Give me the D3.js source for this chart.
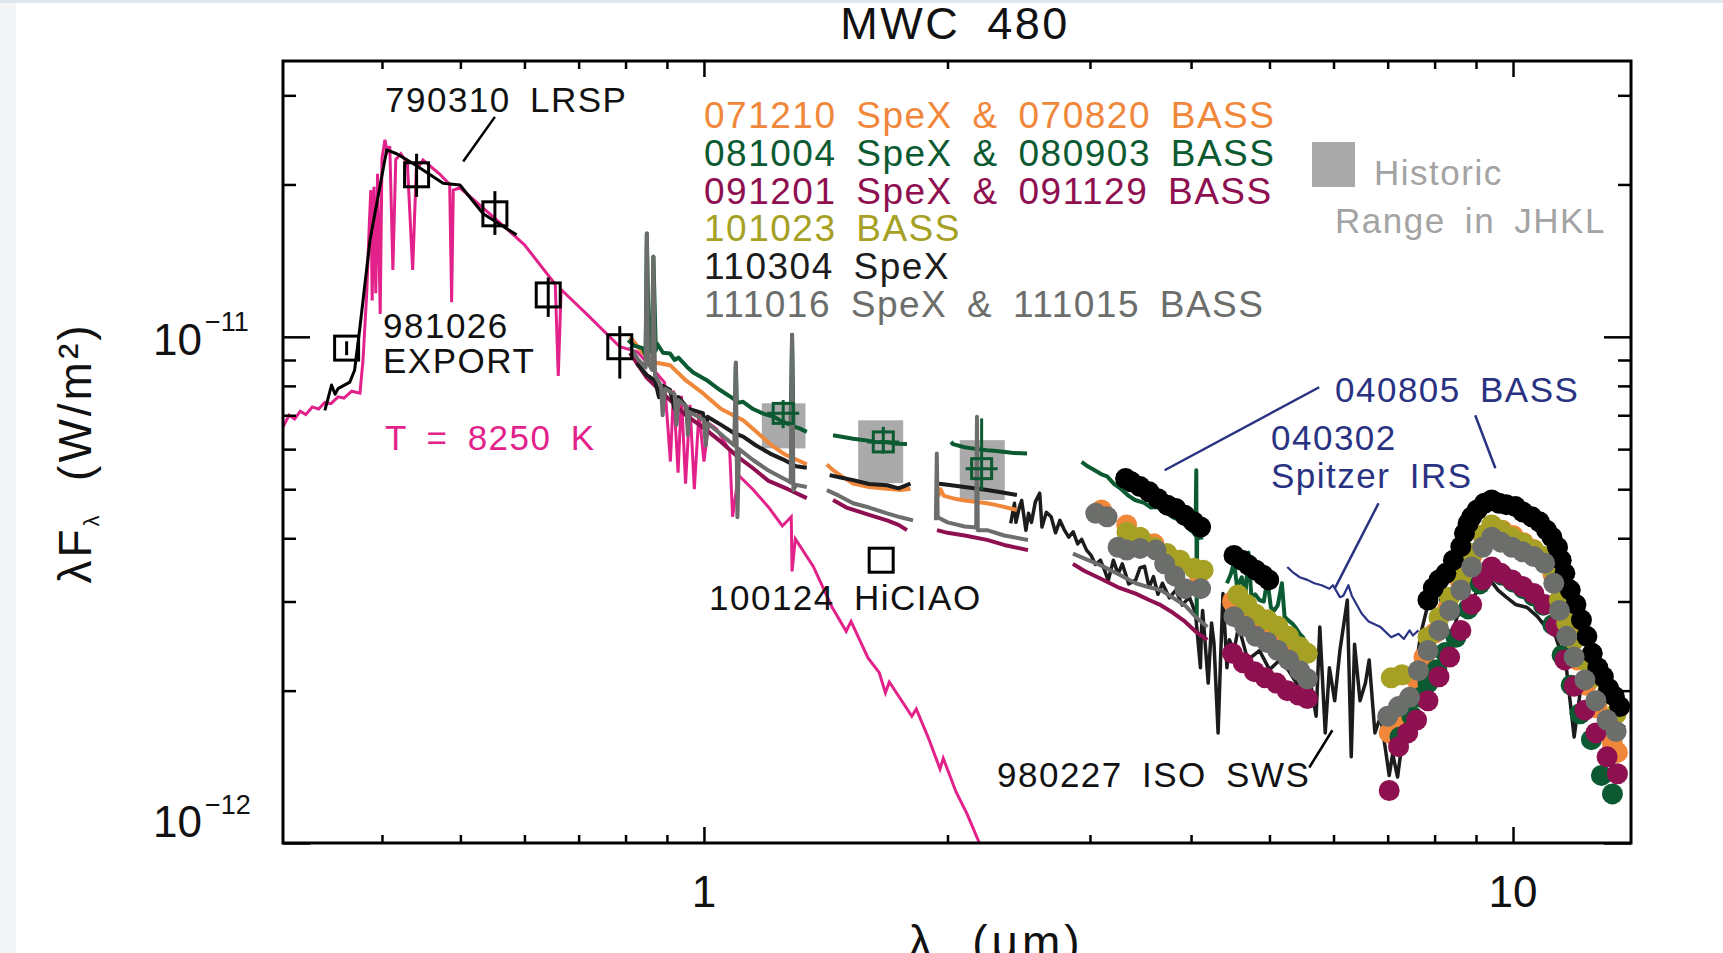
<!DOCTYPE html>
<html>
<head>
<meta charset="utf-8">
<script src="https://cdn.jsdelivr.net/npm/d3@7"></script>
<style>
  html, body { margin: 0; padding: 0; background: #fff; }
  body { width: 1723px; height: 953px; overflow: hidden; }
  svg text { font-family: "Liberation Sans", Arial, sans-serif; }
</style>
</head>
<body>
<svg id="chart" width="1723" height="953"></svg>
<script>
// wavelengths in microns, fluxes (lambda F_lambda) in units of 1e-12 W/m^2

// Kurucz model, T = 8250 K
const pinkModel = [
  [0.302,6.65],[0.307,7.0],[0.312,6.88],[0.317,7.13],[0.322,7.02],[0.328,7.27],[0.334,7.2],[0.340,7.42],
  [0.346,7.38],[0.353,7.61],[0.359,7.57],[0.367,7.81],[0.3757,7.74],[0.379,9.0],[0.383,12.2],[0.386,17.0],
  [0.3875,19.5],[0.389,11.8],[0.391,19.8],[0.393,12.2],[0.395,21.0],[0.398,11.1],[0.400,22.5],[0.4034,24.5],
  [0.406,23.2],[0.409,23.8],[0.4126,13.55],[0.416,22.4],[0.422,23.0],[0.430,22.0],[0.4365,13.55],[0.441,21.4],
  [0.4495,22.35],[0.471,21.0],[0.485,20.0],[0.4877,11.7],[0.490,19.5],[0.4994,19.7],[0.5437,17.5],[0.60,15.2],
  [0.655,12.7],[0.6606,8.37],[0.666,12.4],[0.72,11.0],[0.787,9.56],[0.827,9.34],[0.868,8.58],[0.894,8.12],
  [0.909,5.67],[0.917,7.83],[0.929,5.39],[0.938,7.65],[0.949,5.13],[0.961,7.34],[0.973,5.0],[0.986,7.09],
  [1.0,5.67],[1.014,6.75],[1.036,6.58],[1.056,6.27],[1.076,5.96],[1.085,4.41],[1.103,5.33],[1.149,5.0],
  [1.204,4.59],[1.25,4.23],[1.282,4.41],[1.285,3.44],[1.297,3.99],[1.365,3.52],[1.439,2.93],[1.499,2.62],
  [1.52,2.74],[1.595,2.32],[1.647,2.17],[1.676,1.98],[1.695,2.08],[1.807,1.78],[1.83,1.84],[1.895,1.61],
  [1.958,1.40],[1.976,1.47],[2.05,1.26],[2.115,1.14],[2.19,1.0],[2.22,0.96]
];

// 790310 LRSP
const lrsp = [
  [0.340,7.16],[0.3465,8.03],[0.350,7.70],[0.353,7.90],[0.365,8.14],[0.370,8.59],[0.3757,10.46],
  [0.3866,15.53],[0.4054,23.4],[0.417,23.0],[0.437,22.0],[0.476,20.1],[0.4994,19.95],[0.5335,17.5],[0.5867,15.9]
];

// 981026 EXPORT photometry: [lambda, flux, low, high]
const exportPhot = [
  [0.3617,9.5,9.2,9.8],[0.4414,20.9,18.9,23.0],[0.5516,17.5,15.9,19.4],[0.642,12.1,10.95,13.1],[0.787,9.56,8.27,10.5]
];
// 100124 HiCIAO
const hiciaoPhot = [[1.656,3.62]];

// historic range in JHK: [lambdaLow, lambdaHigh, fluxLow, fluxHigh]
const historicBoxes = [[1.179,1.335,6.02,7.39],[1.551,1.763,5.14,6.84],[2.071,2.354,4.76,6.25]];
// 081004 photometry: [lambda, flux, low, high]
const greenPhot = [[1.253,7.06,6.6,7.5],[1.666,6.20,5.88,6.64],[2.204,5.49,4.98,6.9]];

// SpeX spectra, each split into segments
const spex071210 = [
  [[0.81,10.0],[0.84,9.3],[0.87,8.9],[0.908,8.79],[0.95,8.2],[0.997,7.74],[1.05,7.2],[1.118,6.84],[1.16,6.5],[1.207,6.14],[1.26,5.85],[1.34,5.6]],
  [[1.419,5.6],[1.44,5.47],[1.48,5.3],[1.529,5.13],[1.6,5.05],[1.684,5.01],[1.75,4.98],[1.80,5.01]],
  [[1.948,4.83],[1.96,5.0],[1.98,4.85],[2.05,4.78],[2.1,4.75],[2.238,4.69],[2.3,4.65],[2.437,4.55]]
];
const spex081004 = [
  [[0.806,9.85],[0.82,9.6],[0.84,9.5],[0.847,9.2],[0.850,16.0],[0.855,9.5],[0.862,9.3],[0.866,14.4],[0.872,9.4],
   [0.875,9.7],[0.89,9.3],[0.908,9.27],[0.92,9.0],[0.93,9.1],[0.953,8.72],[0.97,8.5],[1.008,8.21],[1.03,8.0],
   [1.047,7.85],[1.08,7.6],[1.093,7.5],[1.095,8.87],[1.098,7.4],[1.118,7.44],[1.15,7.2],[1.184,7.05],[1.22,6.95],
   [1.241,6.84],[1.28,6.7],[1.285,10.1],[1.29,6.65],[1.31,6.6],[1.340,6.49]],
  [[1.444,6.39],[1.48,6.35],[1.529,6.29],[1.58,6.25],[1.63,6.2],[1.684,6.19],[1.73,6.15],[1.782,6.14]],
  [[2.02,6.2],[2.031,6.14],[2.1,6.05],[2.175,6.0],[2.238,5.97],[2.3,5.95],[2.4,5.9],[2.508,5.88]],
  [[2.93,5.66],[2.98,5.55],[3.04,5.45],[3.1,5.35],[3.15,5.3],[3.21,5.13],[3.28,5.0],[3.35,4.85],[3.41,4.76],
   [3.5,4.7],[3.57,4.6],[3.64,4.61],[3.72,4.5],[3.8,4.4],[3.88,4.34],[3.96,4.2],[4.03,4.1],[4.05,4.05],
   [4.06,5.45],[4.065,2.8],[4.07,4.0],[4.14,4.02]],
  [[4.43,3.26],[4.48,3.4],[4.52,3.59],[4.56,3.2],[4.62,3.35],[4.67,3.1],[4.71,3.75],[4.75,3.05],[4.8,3.1],
   [4.86,3.02],[4.92,3.0],[4.97,3.31],[5.02,2.92],[5.07,2.88],[5.12,2.95],[5.18,3.26],[5.22,2.8],[5.28,2.75],
   [5.34,2.71],[5.4,2.65],[5.45,2.59],[5.5,2.55],[5.57,2.44]]
];
const spex091201 = [
  [[0.81,9.3],[0.85,8.3],[0.9,7.6],[0.95,7.0],[1.0,6.6],[1.05,6.2],[1.1,5.8],[1.15,5.5],[1.2,5.2],[1.27,5.0],[1.34,4.8]],
  [[1.444,4.76],[1.5,4.6],[1.6,4.45],[1.684,4.34],[1.74,4.25],[1.782,4.15]],
  [[1.941,4.15],[2.0,4.1],[2.1,4.05],[2.238,3.97],[2.35,3.88],[2.515,3.79]],
  [[2.858,3.56],[2.95,3.45],[3.09,3.33],[3.25,3.2],[3.417,3.11],[3.55,3.02],[3.67,2.95],[3.8,2.85],[3.93,2.74],[4.05,2.62],[4.19,2.52]]
];
const spex110304 = [
  [[0.826,8.87],[0.85,8.4],[0.87,8.2],[0.88,7.6],[0.89,8.0],[0.908,7.85],[0.92,7.2],[0.93,7.6],[0.95,7.3],
   [0.955,6.7],[0.96,7.2],[0.997,7.07],[1.005,6.5],[1.01,6.95],[1.05,6.7],[1.09,6.45],[1.118,6.35],[1.16,6.1],
   [1.207,5.88],[1.26,5.7],[1.30,5.55],[1.34,5.51]],
  [[1.43,5.33],[1.47,5.28],[1.529,5.21],[1.6,5.12],[1.684,5.09],[1.74,5.02],[1.8,5.13]],
  [[1.94,5.13],[2.0,5.1],[2.1,5.05],[2.238,4.98],[2.3,4.95],[2.437,4.87]]
];
const spex111016 = [
  [[0.81,9.56],[0.83,9.0],[0.847,8.7],[0.850,16.0],[0.853,8.9],[0.863,8.6],[0.866,14.4],[0.870,8.4],[0.885,8.0],
   [0.889,7.0],[0.895,7.9],[0.92,7.7],[0.925,6.7],[0.93,7.5],[0.952,7.27],[0.955,6.4],[0.96,7.1],[1.0,6.85],
   [1.005,6.1],[1.01,6.75],[1.047,6.44],[1.09,6.1],[1.095,8.9],[1.1,4.4],[1.105,6.0],[1.15,5.71],[1.2,5.45],
   [1.266,5.21],[1.28,5.15],[1.285,10.1],[1.29,4.98],[1.3,5.1],[1.34,5.05]],
  [[1.419,4.98],[1.47,4.85],[1.529,4.69],[1.6,4.6],[1.684,4.48],[1.75,4.4],[1.813,4.34]],
  [[1.935,4.34],[1.94,5.88],[1.945,4.4],[2.0,4.3],[2.1,4.22],[2.17,4.2],[2.175,6.95],[2.18,4.15],[2.238,4.15],[2.35,4.05],[2.515,3.97]],
  [[2.858,3.73],[2.95,3.65],[3.09,3.54],[3.25,3.4],[3.417,3.26],[3.55,3.2],[3.67,3.16],[3.8,3.05],[3.93,2.95],[4.05,2.8],[4.19,2.67]]
];

// 980227 ISO SWS
const isoSws = [
  [2.394,4.28],[2.42,4.69],[2.43,4.3],[2.455,4.62],[2.47,4.75],[2.50,4.15],[2.519,4.48],[2.54,4.3],[2.568,4.72],
  [2.60,4.91],[2.617,4.21],[2.65,4.5],[2.686,4.41],[2.72,4.1],[2.754,4.34],[2.79,4.15],[2.824,4.02],[2.86,4.12],
  [2.897,3.90],[2.93,3.98],[2.971,3.79],[3.01,3.7],[3.047,3.55],[3.09,3.62],[3.127,3.46],[3.16,3.3],[3.207,3.62],
  [3.25,3.4],[3.289,3.56],[3.35,3.25],[3.417,3.31],[3.46,3.5],[3.504,3.52],[3.55,3.2],[3.594,3.36],[3.64,3.1],
  [3.687,3.26],[3.76,3.05],[3.831,3.16],[3.9,2.95],[3.981,3.06],[4.05,2.85],[4.108,2.22],[4.12,2.63],[4.134,2.88],
  [4.20,2.07],[4.24,2.72],[4.27,2.48],[4.32,1.65],[4.35,2.3],[4.38,3.11],[4.43,2.22],[4.46,2.52],[4.52,2.40],
  [4.58,2.68],[4.7,2.3],[4.86,2.40],[5.0,2.2],[5.15,2.3],[5.28,2.19],[5.42,2.05],[5.57,2.10],[5.62,2.07],
  [5.71,1.78],[5.77,2.67],[5.86,1.65],[5.93,2.22],[6.02,1.91],[6.11,2.40],[6.24,3.02],[6.31,1.48],[6.37,2.47],
  [6.47,1.91],[6.57,2.07],[6.64,2.30],[6.75,1.65],[6.86,1.78],[6.96,1.52],[7.03,1.36],[7.1,1.5],[7.2,1.35],
  [7.3,1.6],[7.37,1.72],[7.5,1.95],[7.69,2.59],[7.85,2.96],[8.10,3.16],[8.35,2.47],[8.53,2.80],[8.80,2.96],
  [9.06,3.16],[9.37,3.31],[9.58,3.16],[9.81,3.06],[10.07,2.96],[10.41,2.92],[10.72,2.80],[11.06,2.63],
  [11.29,2.56],[11.65,2.19],[11.90,1.62],[12.15,2.07],[12.53,1.91],[12.93,1.83],[13.34,1.75],[13.75,1.69]
];

// 040302 Spitzer IRS
const spitzerIrs = [
  [5.26,3.51],[5.34,3.43],[5.45,3.35],[5.57,3.31],[5.68,3.26],[5.80,3.23],[5.93,3.18],[5.99,3.23],[6.11,3.06],
  [6.17,3.08],[6.26,3.23],[6.32,3.08],[6.50,2.84],[6.63,2.74],[6.86,2.67],[7.07,2.55],[7.22,2.59],[7.33,2.53],
  [7.45,2.63],[7.52,2.57],[7.64,2.63]
];

// BASS spectra (plotted as dots)
const bass040805 = [
  [3.32,5.25],[3.375,5.17],[3.46,5.06],[3.55,4.94],[3.64,4.79],[3.74,4.65],[3.83,4.58],[3.93,4.44],[4.03,4.31],[4.11,4.21],
  [4.52,3.70],[4.62,3.62],[4.71,3.54],[4.81,3.46],[4.91,3.38],[4.99,3.31],
  [7.85,3.02],[7.97,3.19],[8.10,3.31],[8.26,3.41],[8.44,3.62],[8.62,3.85],[8.71,4.09],[8.80,4.28],[8.89,4.41],
  [9.03,4.55],[9.22,4.69],[9.41,4.76],[9.61,4.69],[9.81,4.66],[10.07,4.62],[10.28,4.51],[10.55,4.41],[10.78,4.31],
  [11.00,4.15],[11.17,4.02],[11.35,3.84],[11.47,3.62],[11.59,3.41],[11.77,3.16],[11.96,2.96],[12.15,2.76],
  [12.34,2.56],[12.53,2.37],[12.73,2.22],[12.93,2.13],[13.13,2.02],[13.34,1.95],[13.55,1.86]
];
const bass070820 = [
  [3.1,4.55],[3.33,4.25],[3.6,3.9],[3.85,3.6],[4.09,3.4],
  [4.5,3.0],[4.7,2.85],[4.9,2.72],[5.1,2.6],[5.3,2.48],[5.5,2.38],
  [7.03,1.65],[7.15,1.72],[7.4,1.9],[7.6,2.1],[7.76,2.33],[8.0,2.6],[8.3,2.9],[8.6,3.3],[8.9,3.7],[9.2,4.05],
  [9.45,4.2],[9.7,4.15],[10.0,4.05],[10.3,3.92],[10.6,3.8],[10.9,3.68],[11.2,3.4],[11.45,3.0],[11.7,2.6],
  [12.0,2.3],[12.3,2.05],[12.7,1.85],[13.05,1.68],[13.27,1.57],[13.46,1.51]
];
const bass080903 = [
  [7.25,1.62],[7.5,1.78],[7.69,1.94],[7.85,2.07],[8.05,2.2],[8.25,2.38],[8.5,2.55],[8.8,2.9],[9.1,3.25],[9.4,3.45],
  [9.7,3.38],[10.0,3.28],[10.3,3.18],[10.6,3.08],[10.9,2.95],[11.2,2.7],[11.5,2.35],[11.8,2.05],[12.1,1.8],
  [12.5,1.6],[12.86,1.36],[13.27,1.25]
];
const bass091129 = [
  [4.50,2.37],[4.64,2.27],[4.79,2.18],[4.94,2.12],[5.10,2.07],[5.26,2.00],[5.43,1.96],[5.57,1.93],
  [7.03,1.27],[7.22,1.55],[7.41,1.65],[7.60,1.75],[7.85,1.91],[8.10,2.13],[8.35,2.33],[8.62,2.63],[8.89,2.96],
  [9.17,3.31],[9.41,3.51],[9.66,3.41],[9.97,3.31],[10.28,3.21],[10.61,3.11],[10.94,2.96],[11.29,2.68],
  [11.59,2.30],[11.90,2.04],[12.27,1.83],[12.66,1.65],[13.07,1.48],[13.46,1.37]
];
const bass101023 = [
  [3.333,4.11],[3.459,4.02],[3.60,3.84],[3.735,3.73],[3.876,3.62],[4.034,3.49],[4.14,3.46],
  [4.57,3.09],[4.69,2.96],[4.81,2.83],[4.97,2.76],[5.12,2.68],[5.28,2.56],[5.45,2.44],[5.57,2.37],
  [7.07,2.12],[7.29,2.15],[7.85,2.55],[8.10,2.79],[8.35,3.06],[8.62,3.35],[8.89,3.73],[9.17,4.06],[9.41,4.25],
  [9.66,4.15],[9.97,4.02],[10.28,3.91],[10.61,3.79],[10.94,3.68],[11.23,3.46],[11.41,3.02],[11.65,2.72],
  [11.90,2.52],[12.27,2.30],[12.66,2.13],[13.07,1.97],[13.41,1.80]
];
const bass111015 = [
  [3.05,4.48],[3.15,4.41],[3.25,3.84],[3.33,3.79],[3.46,3.82],[3.62,3.79],[3.71,3.56],[3.82,3.37],[3.93,3.18],[4.11,3.18],
  [4.52,2.80],[4.66,2.68],[4.81,2.56],[4.97,2.49],[5.12,2.40],[5.28,2.30],[5.45,2.19],[5.57,2.11],
  [7.00,1.78],[7.22,1.86],[7.45,1.94],[7.64,2.19],[7.85,2.40],[8.10,2.63],[8.35,2.88],[8.62,3.16],[8.89,3.51],
  [9.17,3.84],[9.41,4.02],[9.66,3.93],[9.97,3.84],[10.28,3.76],[10.61,3.68],[10.94,3.57],[11.23,3.26],
  [11.41,2.88],[11.65,2.56],[11.90,2.33],[12.27,2.10],[12.66,1.91],[13.07,1.75],[13.41,1.66]
];

// annotation leader lines, in data units
const leaderLrsp = [[0.5516,27.2],[0.504,22.2]];
const leaderBass1 = [[5.76,7.95],[3.71,5.45]];
const leaderBass2 = [[8.98,7.0],[9.51,5.50]];
const leaderIrs = [[6.82,4.69],[6.02,3.18]];
const leaderIso = [[5.60,1.41],[5.98,1.67]];

const legendLabels = [
  "071210 SpeX & 070820 BASS",
  "081004 SpeX & 080903 BASS",
  "091201 SpeX & 091129 BASS",
  "101023 BASS",
  "110304 SpeX",
  "111016 SpeX & 111015 BASS"
];

const xMajor = [1, 10];
const xMinor = [0.4, 0.5, 0.6, 0.7, 0.8, 0.9, 2, 3, 4, 5, 6, 7, 8, 9];
const yMajor = [1, 10];
const yMinor = [2, 3, 4, 5, 6, 7, 8, 9, 20, 30];

// ---- styles ----
const col = {
  orange: "#f0873a",
  green: "#0b5a31",
  maroon: "#8f1050",
  olive: "#a6a125",
  black: "#1c1c1c",
  gray: "#6c6e6b",
  pink: "#e2228a",
  blue: "#2a3282",
  hist: "#aaaaaa",
  histText: "#a3a3a3"
};
const legendColors = [col.orange, col.green, col.maroon, col.olive, col.black, col.gray];

const chartAttr = { left: 283, right: 1631, top: 61, bottom: 843 };

const xScale = d3.scaleLog().domain([0.3018, 13.99]).range([chartAttr.left, chartAttr.right]);
const yScale = d3.scaleLog().domain([1, 35.07]).range([chartAttr.bottom, chartAttr.top]);

const svg = d3.select("#chart");

// page edge like the screenshot
svg.append("rect").attr("x", 0).attr("y", 0).attr("width", 1723).attr("height", 3).attr("fill", "#dfe8f1");
svg.append("rect").attr("x", 0).attr("y", 3).attr("width", 16).attr("height", 950).attr("fill", "#f4f5f7");

svg.append("clipPath").attr("id", "plotClip")
  .append("rect")
  .attr("x", chartAttr.left).attr("y", chartAttr.top)
  .attr("width", chartAttr.right - chartAttr.left)
  .attr("height", chartAttr.bottom - chartAttr.top);

const plot = svg.append("g").attr("clip-path", "url(#plotClip)");

const line = d3.line().x(d => xScale(d[0])).y(d => yScale(d[1]));

// historic range boxes
plot.selectAll("rect.hist")
  .data(historicBoxes)
  .enter()
  .append("rect")
  .attr("class", "hist")
  .attr("x", d => xScale(d[0]))
  .attr("width", d => xScale(d[1]) - xScale(d[0]))
  .attr("y", d => yScale(d[3]))
  .attr("height", d => yScale(d[2]) - yScale(d[3]))
  .attr("fill", col.hist);

// model
plot.append("path").datum(pinkModel)
  .attr("d", line).attr("fill", "none").attr("stroke", col.pink).attr("stroke-width", 3);

function drawSegments(segs, color, w) {
  segs.forEach(seg => {
    plot.append("path").datum(seg)
      .attr("d", line)
      .attr("fill", "none")
      .attr("stroke", color)
      .attr("stroke-width", w)
      .attr("stroke-linejoin", "round");
  });
}

// ISO SWS spectrum
drawSegments([isoSws], col.black, 3.5);

// SpeX spectra
drawSegments(spex091201, col.maroon, 4);
drawSegments(spex071210, col.orange, 4);
drawSegments(spex110304, col.black, 4);
drawSegments(spex081004, col.green, 4);
drawSegments(spex111016, col.gray, 4);

// Spitzer IRS
drawSegments([spitzerIrs], col.blue, 2.2);

// BASS dots
function drawDots(data, color) {
  plot.append("g")
    .selectAll("circle")
    .data(data)
    .enter()
    .append("circle")
    .attr("cx", d => xScale(d[0]))
    .attr("cy", d => yScale(d[1]))
    .attr("r", 10.5)
    .attr("fill", color);
}
drawDots(bass070820, col.orange);
drawDots(bass080903, col.green);
drawDots(bass091129, col.maroon);
drawDots(bass101023, col.olive);
drawDots(bass040805, "#000");
drawDots(bass111015, col.gray);

// LRSP
drawSegments([lrsp], "#000", 3);

// photometry squares with error bars
const sq = 24;
plot.selectAll("line.errb")
  .data(exportPhot)
  .enter()
  .append("line")
  .attr("x1", d => xScale(d[0])).attr("x2", d => xScale(d[0]))
  .attr("y1", d => yScale(d[2])).attr("y2", d => yScale(d[3]))
  .attr("stroke", "#000").attr("stroke-width", 3);
plot.selectAll("rect.phot")
  .data(exportPhot.concat(hiciaoPhot))
  .enter()
  .append("rect")
  .attr("x", d => xScale(d[0]) - sq / 2)
  .attr("y", d => yScale(d[1]) - sq / 2)
  .attr("width", sq).attr("height", sq)
  .attr("fill", "none").attr("stroke", "#000").attr("stroke-width", 3);

const gsq = 20;
const gp = plot.append("g");
gp.selectAll("line.gv")
  .data(greenPhot).enter().append("line")
  .attr("x1", d => xScale(d[0])).attr("x2", d => xScale(d[0]))
  .attr("y1", d => yScale(d[2])).attr("y2", d => yScale(d[3]))
  .attr("stroke", col.green).attr("stroke-width", 3);
gp.selectAll("line.gh")
  .data(greenPhot).enter().append("line")
  .attr("x1", d => xScale(d[0]) - 16).attr("x2", d => xScale(d[0]) + 16)
  .attr("y1", d => yScale(d[1])).attr("y2", d => yScale(d[1]))
  .attr("stroke", col.green).attr("stroke-width", 3);
gp.selectAll("rect")
  .data(greenPhot).enter().append("rect")
  .attr("x", d => xScale(d[0]) - gsq / 2)
  .attr("y", d => yScale(d[1]) - gsq / 2)
  .attr("width", gsq).attr("height", gsq)
  .attr("fill", "none").attr("stroke", col.green).attr("stroke-width", 3);

// leader lines
[[leaderLrsp, "#000"], [leaderBass1, col.blue], [leaderBass2, col.blue], [leaderIrs, col.blue], [leaderIso, "#000"]]
  .forEach(([pts, c]) => {
    svg.append("path").datum(pts).attr("d", line)
      .attr("fill", "none").attr("stroke", c).attr("stroke-width", 2.5);
  });

// ---- axes (ticks pointing inward, IDL style) ----
function axisGroup(axis, tx, ty) {
  const g = svg.append("g").attr("transform", `translate(${tx},${ty})`).call(axis);
  g.select(".domain").remove();
  g.selectAll("line").attr("stroke", "#000").attr("stroke-width", 2.5);
  g.selectAll("text").remove();
}
axisGroup(d3.axisBottom(xScale).tickValues(xMinor).tickSize(-8), 0, chartAttr.bottom);
axisGroup(d3.axisBottom(xScale).tickValues(xMajor).tickSize(-16), 0, chartAttr.bottom);
axisGroup(d3.axisTop(xScale).tickValues(xMinor).tickSize(-8), 0, chartAttr.top);
axisGroup(d3.axisTop(xScale).tickValues(xMajor).tickSize(-16), 0, chartAttr.top);
axisGroup(d3.axisLeft(yScale).tickValues(yMinor).tickSize(-13), chartAttr.left, 0);
axisGroup(d3.axisLeft(yScale).tickValues(yMajor).tickSize(-27), chartAttr.left, 0);
axisGroup(d3.axisRight(yScale).tickValues(yMinor).tickSize(-13), chartAttr.right, 0);
axisGroup(d3.axisRight(yScale).tickValues(yMajor).tickSize(-27), chartAttr.right, 0);

svg.append("rect")
  .attr("x", chartAttr.left).attr("y", chartAttr.top)
  .attr("width", chartAttr.right - chartAttr.left)
  .attr("height", chartAttr.bottom - chartAttr.top)
  .attr("fill", "none").attr("stroke", "#000").attr("stroke-width", 3);

// tick labels
svg.selectAll("text.xlab")
  .data(xMajor).enter().append("text")
  .attr("x", d => xScale(d)).attr("y", 907)
  .attr("text-anchor", "middle").attr("font-size", 44).attr("fill", "#111")
  .text(d => d);

const yLabels = [[10, "\u221211", 355, 331], [1, "\u221212", 837, 814]];
yLabels.forEach(([v, ex, by, ey]) => {
  svg.append("text").attr("x", 202).attr("y", by).attr("text-anchor", "end")
    .attr("font-size", 44).attr("fill", "#111").text("10");
  svg.append("text").attr("x", 205).attr("y", ey)
    .attr("font-size", 27).attr("fill", "#111").text(ex);
});

// axis titles
svg.append("text")
  .attr("x", 996).attr("y", 958)
  .attr("text-anchor", "middle").attr("font-size", 46)
  .attr("letter-spacing", 4).attr("word-spacing", 20).attr("fill", "#111")
  .text("\u03bb (\u03bcm)");

const ylab = svg.append("text")
  .attr("transform", "translate(91,453) rotate(-90)")
  .attr("text-anchor", "middle").attr("font-size", 46).attr("letter-spacing", 3).attr("fill", "#111")
  .style("white-space", "pre");
ylab.append("tspan").text("\u03bbF");
ylab.append("tspan").attr("font-size", 22).attr("dy", 8).text("\u03bb");
ylab.append("tspan").attr("dy", -8).text("  (W/m\u00b2)");

// title
svg.append("text")
  .attr("x", 955).attr("y", 39)
  .attr("text-anchor", "middle").attr("font-size", 45)
  .attr("letter-spacing", 2.5).attr("word-spacing", 12).attr("fill", "#111")
  .text("MWC 480");

// annotations
function note(x, y, txt, color, size) {
  svg.append("text")
    .attr("x", x).attr("y", y)
    .attr("font-size", size || 35)
    .attr("letter-spacing", 1.5)
    .attr("word-spacing", 8)
    .attr("fill", color)
    .text(txt);
}
note(385, 112, "790310 LRSP", "#111");
note(383, 338, "981026", "#111");
note(383, 373, "EXPORT", "#111");
note(385, 450, "T = 8250 K", col.pink);
note(709, 610, "100124 HiCIAO", "#111");
note(997, 787, "980227 ISO SWS", "#111");
note(1335, 402, "040805 BASS", col.blue);
note(1271, 450, "040302", col.blue);
note(1271, 488, "Spitzer IRS", col.blue);

// legend
svg.selectAll("text.leg")
  .data(legendLabels).enter().append("text")
  .attr("x", 704)
  .attr("y", (d, i) => 128 + i * 37.8)
  .attr("font-size", 37).attr("letter-spacing", 1.5).attr("word-spacing", 8)
  .attr("fill", (d, i) => legendColors[i])
  .text(d => d);

svg.append("rect").attr("x", 1312).attr("y", 142).attr("width", 43).attr("height", 45).attr("fill", col.hist);
note(1374, 185, "Historic", col.histText);
note(1335, 233, "Range in JHKL", col.histText);
</script>
</body>
</html>
